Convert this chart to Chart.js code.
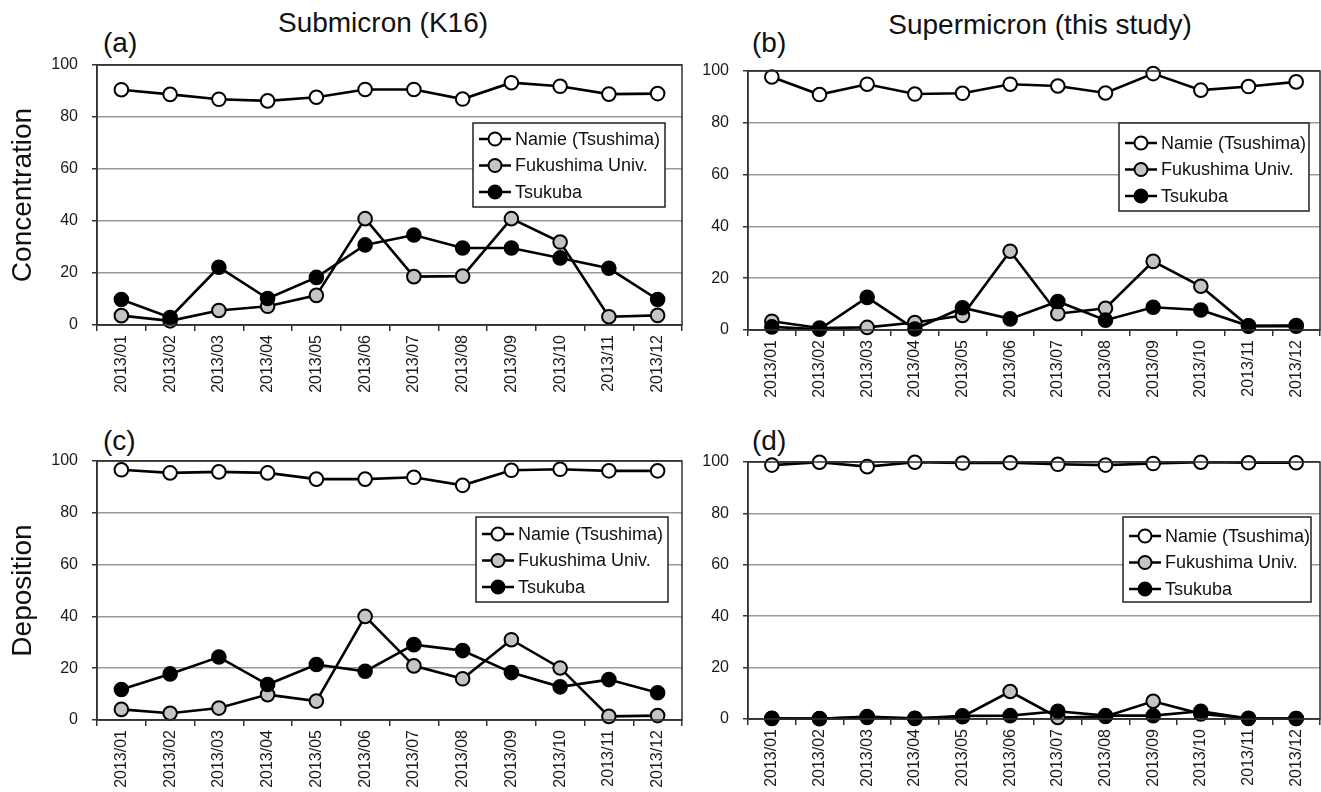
<!DOCTYPE html>
<html><head><meta charset="utf-8">
<script src="https://cdn.jsdelivr.net/npm/chart.js@4.4.1/dist/chart.umd.min.js"></script>
<style>
body{margin:0;background:#fff;width:1321px;height:792px;overflow:hidden;position:relative;font-family:"Liberation Sans",Arial,sans-serif;}
canvas{position:absolute;}
.t{position:absolute;color:#111;white-space:nowrap;font-size:28px;line-height:1;}
</style></head><body>
<div class="t" style="left:383px;top:9px;transform:translateX(-50%)">Submicron (K16)</div>
<div class="t" style="left:1040px;top:11px;transform:translateX(-50%)">Supermicron (this study)</div>
<div class="t" style="left:103px;top:29px">(a)</div>
<div class="t" style="left:752px;top:29px">(b)</div>
<div class="t" style="left:103px;top:427px">(c)</div>
<div class="t" style="left:752px;top:427px">(d)</div>
<canvas id="ca" width="700" height="370" style="left:0;top:40px;width:700px;height:370px"></canvas>
<canvas id="cb" width="636" height="370" style="left:700px;top:40px;width:636px;height:370px"></canvas>
<canvas id="cc" width="700" height="372" style="left:0;top:420px;width:700px;height:372px"></canvas>
<canvas id="cd" width="636" height="372" style="left:700px;top:420px;width:636px;height:372px"></canvas>
<script>
const months = ["2013/01","2013/02","2013/03","2013/04","2013/05","2013/06","2013/07","2013/08","2013/09","2013/10","2013/11","2013/12"];
const seriesNames = ["Namie (Tsushima)","Fukushima Univ.","Tsukuba"];
const yTicks = [0,20,40,60,80,100];

// (a) Submicron concentration
const subConcNamie = [90.5, 88.7, 86.8, 86.2, 87.6, 90.6, 90.6, 86.9, 93.2, 91.8, 88.8, 89.0];
const subConcFukushima = [3.6, 1.6, 5.6, 7.2, 11.4, 40.9, 18.6, 18.8, 40.9, 31.9, 3.2, 3.7];
const subConcTsukuba = [9.8, 2.9, 22.2, 10.2, 18.3, 30.8, 34.6, 29.6, 29.6, 25.8, 21.8, 9.8];
// (b) Supermicron concentration
const supConcNamie = [97.7, 90.9, 94.9, 91.1, 91.4, 94.9, 94.2, 91.5, 99.0, 92.6, 94.0, 95.8];
const supConcFukushima = [3.4, 0.8, 1.0, 2.9, 5.6, 30.4, 6.3, 8.4, 26.5, 16.9, 1.5, 1.5];
const supConcTsukuba = [1.2, 0.3, 12.6, 0.4, 8.6, 4.3, 11.0, 3.8, 8.8, 7.7, 1.6, 1.7];
// (c) Submicron deposition
const subDepNamie = [96.6, 95.4, 95.8, 95.4, 93.0, 93.0, 93.7, 90.6, 96.4, 96.8, 96.2, 96.2];
const subDepFukushima = [4.1, 2.6, 4.6, 9.8, 7.3, 40.0, 20.9, 15.9, 31.0, 20.1, 1.4, 1.7];
const subDepTsukuba = [11.8, 17.8, 24.3, 13.7, 21.4, 18.8, 29.1, 26.8, 18.3, 12.8, 15.6, 10.5];
// (d) Supermicron deposition
const supDepNamie = [98.8, 99.9, 98.2, 99.9, 99.6, 99.7, 99.1, 98.8, 99.4, 99.9, 99.7, 99.7];
const supDepFukushima = [0.3, 0.2, 0.6, 0.3, 0.9, 10.7, 0.6, 1.0, 6.9, 2.0, 0.3, 0.2];
const supDepTsukuba = [0.2, 0.1, 1.0, 0.2, 1.2, 1.3, 3.0, 1.3, 1.3, 3.0, 0.2, 0.2];

const fills = ['#ffffff', '#c4c4c4', '#000000'];
const orders = [2, 1, 0];

const frame = {
  id: 'frame',
  afterDatasetsDraw(chart) {
    const {ctx, chartArea: a} = chart;
    ctx.save();
    ctx.strokeStyle = '#333';
    ctx.lineWidth = 1.5;
    ctx.strokeRect(a.left, a.top, a.right - a.left, a.bottom - a.top);
    ctx.restore();
  }
};

const boxLegend = {
  id: 'boxLegend',
  afterDraw(chart, args, o) {
    const {ctx, chartArea: a} = chart;
    const x = a.right - o.right - o.width, y = a.top + o.top;
    ctx.save();
    ctx.fillStyle = '#fff';
    ctx.fillRect(x, y, o.width, o.height);
    ctx.strokeStyle = '#222';
    ctx.lineWidth = 1.5;
    ctx.strokeRect(x, y, o.width, o.height);
    chart.data.datasets.forEach((ds, i) => {
      const cy = y + o.rowTop + i * o.rowGap;
      ctx.strokeStyle = '#000';
      ctx.lineWidth = 2.5;
      ctx.beginPath(); ctx.moveTo(x + 6, cy); ctx.lineTo(x + 38, cy); ctx.stroke();
      ctx.beginPath(); ctx.arc(x + 22, cy, 6.5, 0, Math.PI * 2);
      ctx.fillStyle = ds.pointBackgroundColor; ctx.fill();
      ctx.lineWidth = 2; ctx.stroke();
      ctx.fillStyle = '#111';
      ctx.font = '18px "Liberation Sans", Arial, sans-serif';
      ctx.textBaseline = 'middle';
      ctx.fillText(ds.label, x + 42, cy + 1);
    });
    ctx.restore();
  }
};

function makeDatasets(arrs) {
  return arrs.map((d, i) => ({
    label: seriesNames[i],
    data: d,
    borderColor: '#000',
    borderWidth: 2.6,
    pointRadius: 6.8,
    pointBorderWidth: 2,
    pointBorderColor: '#000',
    pointBackgroundColor: fills[i],
    tension: 0,
    clip: false,
    order: orders[i]
  }));
}

function makeChart(id, arrs, cfg) {
  new Chart(document.getElementById(id), {
    type: 'line',
    data: { labels: months, datasets: makeDatasets(arrs) },
    plugins: [frame, boxLegend],
    options: {
      responsive: false,
      animation: false,
      layout: { padding: { left: 0, top: cfg.padTop, right: cfg.padRight, bottom: 0 } },
      plugins: {
        legend: { display: false },
        tooltip: { enabled: false },
        boxLegend: cfg.legend
      },
      scales: {
        x: {
          offset: true,
          grid: { offset: true, drawOnChartArea: false, tickLength: 6, color: '#333', lineWidth: 1.5 },
          border: { color: '#333', width: 1.5 },
          ticks: { autoSkip: false, minRotation: 90, maxRotation: 90, color: '#1a1a1a', padding: 4,
                   font: { family: '"Liberation Sans", Arial, sans-serif', size: 16 } },
          afterFit: s => { s.height = cfg.xHeight; }
        },
        y: {
          min: 0, max: 100,
          afterBuildTicks: s => { s.ticks = yTicks.map(v => ({ value: v })); },
          grid: { color: c => (c.tick && (c.tick.value === 0 || c.tick.value === 100)) ? '#333' : '#999',
                  lineWidth: 1.5, tickLength: 5, tickColor: '#333' },
          border: { color: '#333', width: 1.5 },
          ticks: { color: '#1a1a1a', padding: 14, font: { family: '"Liberation Sans", Arial, sans-serif', size: 16 } },
          title: cfg.yTitle ? { display: true, text: cfg.yTitle, color: '#111', padding: { top: 6, bottom: 0 },
                   font: { family: '"Liberation Sans", Arial, sans-serif', size: 28 } } : { display: false },
          afterFit: s => { s.width = cfg.yWidth; }
        }
      }
    }
  });
}

makeChart('ca', [subConcNamie, subConcFukushima, subConcTsukuba],
  { padTop: 25, padRight: 18, xHeight: 85, yWidth: 97, yTitle: 'Concentration',
    legend: { right: 17, top: 58, width: 192, height: 84, rowTop: 16, rowGap: 26.5 } });
makeChart('cb', [supConcNamie, supConcFukushima, supConcTsukuba],
  { padTop: 31, padRight: 16, xHeight: 80, yWidth: 48, yTitle: null,
    legend: { right: 11, top: 52, width: 190, height: 88, rowTop: 20, rowGap: 26.5 } });
makeChart('cc', [subDepNamie, subDepFukushima, subDepTsukuba],
  { padTop: 41, padRight: 18, xHeight: 72, yWidth: 97, yTitle: 'Deposition',
    legend: { right: 14, top: 56, width: 192, height: 85, rowTop: 17, rowGap: 26.5 } });
makeChart('cd', [supDepNamie, supDepFukushima, supDepTsukuba],
  { padTop: 42, padRight: 16, xHeight: 73, yWidth: 48, yTitle: null,
    legend: { right: 9, top: 55, width: 188, height: 85, rowTop: 19, rowGap: 26.5 } });
</script>
</body></html>
